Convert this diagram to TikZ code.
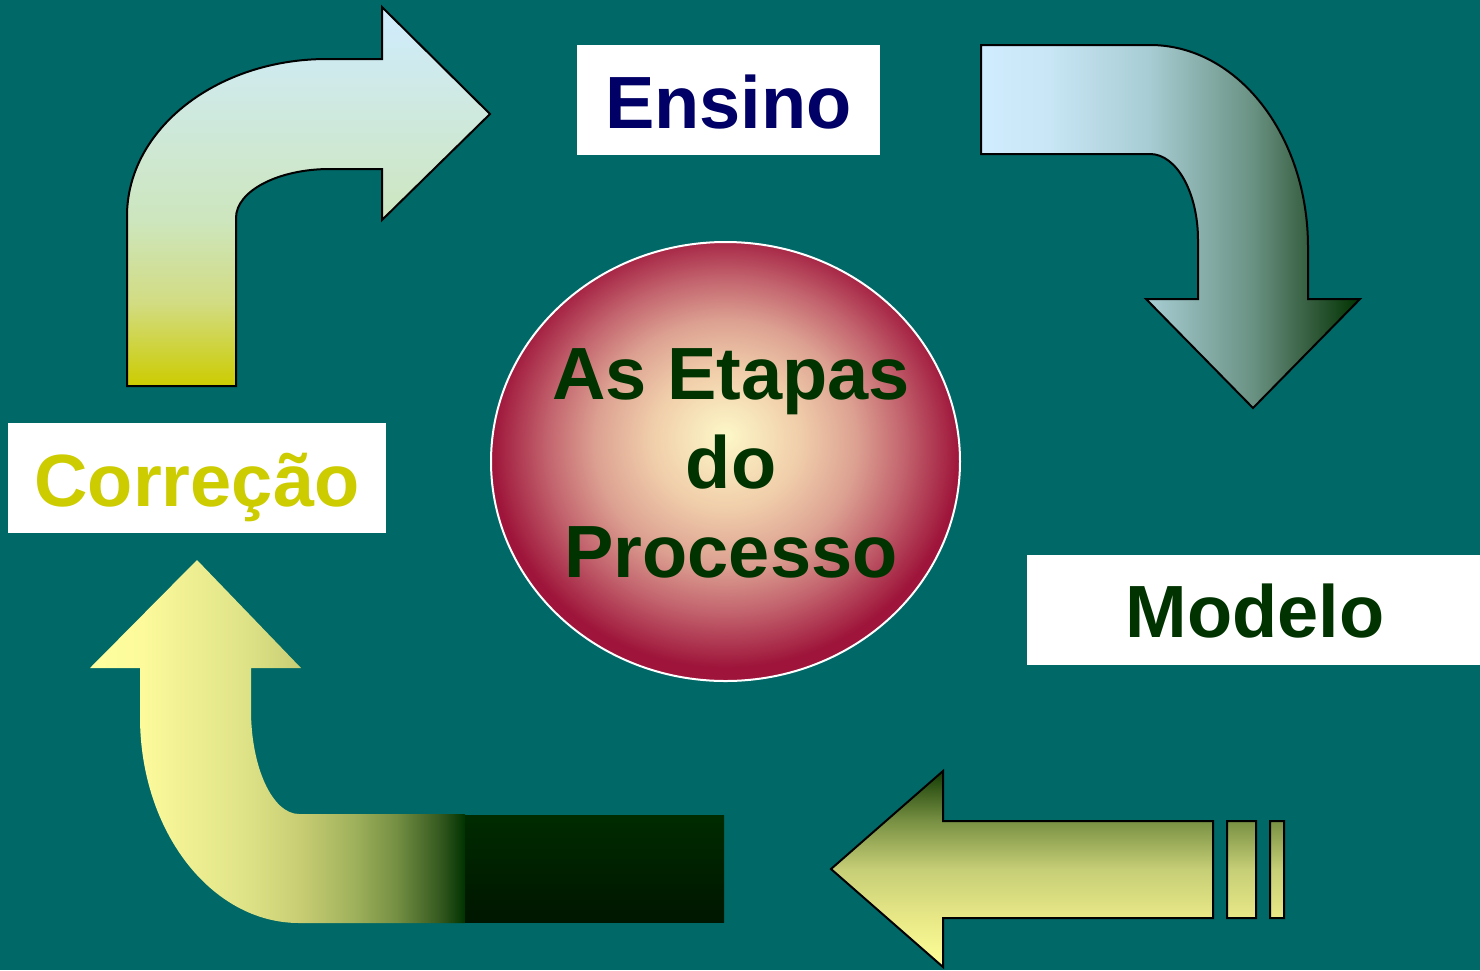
\documentclass[tikz,border=0pt]{standalone}
\usepackage{fontspec}
\setmainfont{Liberation Sans}
\usetikzlibrary{shapes.geometric}

\definecolor{bgteal}{RGB}{0,104,102}
\definecolor{ensinoblue}{RGB}{0,0,102}
\definecolor{corryellow}{RGB}{204,204,0}
\definecolor{darkgreen}{RGB}{0,51,0}

\definecolor{tlA}{RGB}{204,204,0}
\definecolor{tlB}{RGB}{210,220,130}
\definecolor{tlC}{RGB}{205,230,190}
\definecolor{tlD}{RGB}{208,236,255}

\definecolor{trA}{RGB}{208,236,255}
\definecolor{trB}{RGB}{200,230,245}
\definecolor{trC}{RGB}{168,205,212}
\definecolor{trD}{RGB}{105,145,130}
\definecolor{trE}{RGB}{55,95,65}
\definecolor{trF}{RGB}{0,51,0}

\definecolor{blA}{RGB}{255,255,160}
\definecolor{blB}{RGB}{252,250,155}
\definecolor{blC}{RGB}{222,226,135}
\definecolor{blD}{RGB}{200,205,115}
\definecolor{blE}{RGB}{160,178,92}
\definecolor{blF}{RGB}{115,142,66}
\definecolor{blG}{RGB}{48,85,28}
\definecolor{blH}{RGB}{0,51,0}

\definecolor{dkA}{RGB}{0,22,0}
\definecolor{dkB}{RGB}{0,43,0}

\definecolor{brA}{RGB}{255,255,153}
\definecolor{brB}{RGB}{232,232,135}
\definecolor{brC}{RGB}{198,206,118}
\definecolor{brD}{RGB}{122,146,68}
\definecolor{brE}{RGB}{20,60,5}

\definecolor{ccA}{RGB}{253,248,200}
\definecolor{ccB}{RGB}{240,205,170}
\definecolor{ccC}{RGB}{220,160,145}
\definecolor{ccD}{RGB}{195,100,110}
\definecolor{ccE}{RGB}{158,20,58}

\pgfdeclareverticalshading{tlshade}{100bp}{color(0bp)=(tlA); color(25bp)=(tlA); color(36bp)=(tlB); color(47bp)=(tlC); color(75bp)=(tlD); color(100bp)=(tlD)}
\pgfdeclarehorizontalshading{trshade}{100bp}{color(0bp)=(trA); color(25bp)=(trA); color(34bp)=(trB); color(47bp)=(trC); color(61bp)=(trD); color(68bp)=(trE); color(75bp)=(trF); color(100bp)=(trF)}
\pgfdeclarehorizontalshading{blshade}{100bp}{color(0bp)=(blA); color(25bp)=(blA); color(32bp)=(blB); color(46bp)=(blC); color(53bp)=(blD); color(60bp)=(blE); color(66bp)=(blF); color(72bp)=(blG); color(75bp)=(blH); color(100bp)=(blH)}
\pgfdeclareverticalshading{dkshade}{100bp}{color(0bp)=(dkA); color(25bp)=(dkA); color(75bp)=(dkB); color(100bp)=(dkB)}
\pgfdeclareverticalshading{brshade}{100bp}{color(0bp)=(brA); color(25bp)=(brA); color(37.5bp)=(brB); color(50bp)=(brC); color(62bp)=(brD); color(75bp)=(brE); color(100bp)=(brE)}
\pgfdeclareradialshading{ccshade}{\pgfpoint{0bp}{3bp}}{color(0bp)=(ccA); color(8bp)=(ccB); color(14bp)=(ccC); color(19bp)=(ccD); color(25bp)=(ccE); color(50bp)=(ccE)}

\tikzset{
  bigfont/.style={font=\bfseries\fontsize{74}{89}\selectfont},
  labelbox/.style={fill=white, inner sep=0pt, minimum height=110, text height=56, text depth=0, bigfont},
  arrowline/.style={draw=black, line width=2, line join=miter},
}

\begin{document}
\begin{tikzpicture}[x=1pt, y=-1pt]
\useasboundingbox (0,0) rectangle (1480,970);
\fill[bgteal] (0,0) rectangle (1480,970);

% top-left curved arrow (up then right)
\shade[shading=tlshade, arrowline]
  (127,386) -- (127,216)
  .. controls (127,129.3) and (216.5,59) .. (327,59)
  -- (382,59) -- (382,7) -- (490,114) -- (382,220) -- (382,169) -- (330,169)
  .. controls (278,169) and (236,191) .. (236,218)
  -- (236,386) -- cycle;

% top-right curved arrow (right then down)
\shade[shading=trshade, arrowline]
  (981,45) -- (1150,45)
  .. controls (1237.3,45) and (1308,135.4) .. (1308,247)
  -- (1308,299) -- (1360,299) -- (1253,408) -- (1146,299) -- (1198,299) -- (1198,240)
  .. controls (1198,192.5) and (1176.5,154) .. (1150,154)
  -- (981,154) -- cycle;

% bottom-left curved arrow (left then up)
\shade[shading=blshade]
  (197,560) -- (301,668) -- (251,668) -- (251,710)
  .. controls (251,767.4) and (272.5,814) .. (299,814)
  -- (465,814) -- (465,923) -- (299,923)
  .. controls (211.2,923) and (140,830.8) .. (140,717)
  -- (140,668) -- (90,668) -- cycle;
\shade[shading=dkshade] (465,815) rectangle (724,922);

% bottom-right striped arrow (pointing left)
\shade[shading=brshade, arrowline]
  (831,869) -- (943,771) -- (943,821) -- (1213,821) -- (1213,918) -- (943,918) -- (943,967) -- cycle
  (1227,821) rectangle (1256,918)
  (1270,821) rectangle (1284,918);

% central circle
\node[ellipse, draw=white, line width=2, shade, shading=ccshade,
      minimum width=469, minimum height=439, inner sep=0pt] (centro) at (725.5,461.5) {};
\node[align=center, text=darkgreen, inner sep=0pt, bigfont] (etapas) at (731,463)
  {As Etapas\\do\\Processo};

% labels
\node[labelbox, minimum width=303, text=ensinoblue] (ensino) at (728.5,100) {Ensino};
\node[labelbox, minimum width=378, text=corryellow] (correcao) at (197,478) {Correção};
\node[labelbox, minimum width=456, text=darkgreen] (modelo) at (1255,609.5) {Modelo};
\end{tikzpicture}
\end{document}
